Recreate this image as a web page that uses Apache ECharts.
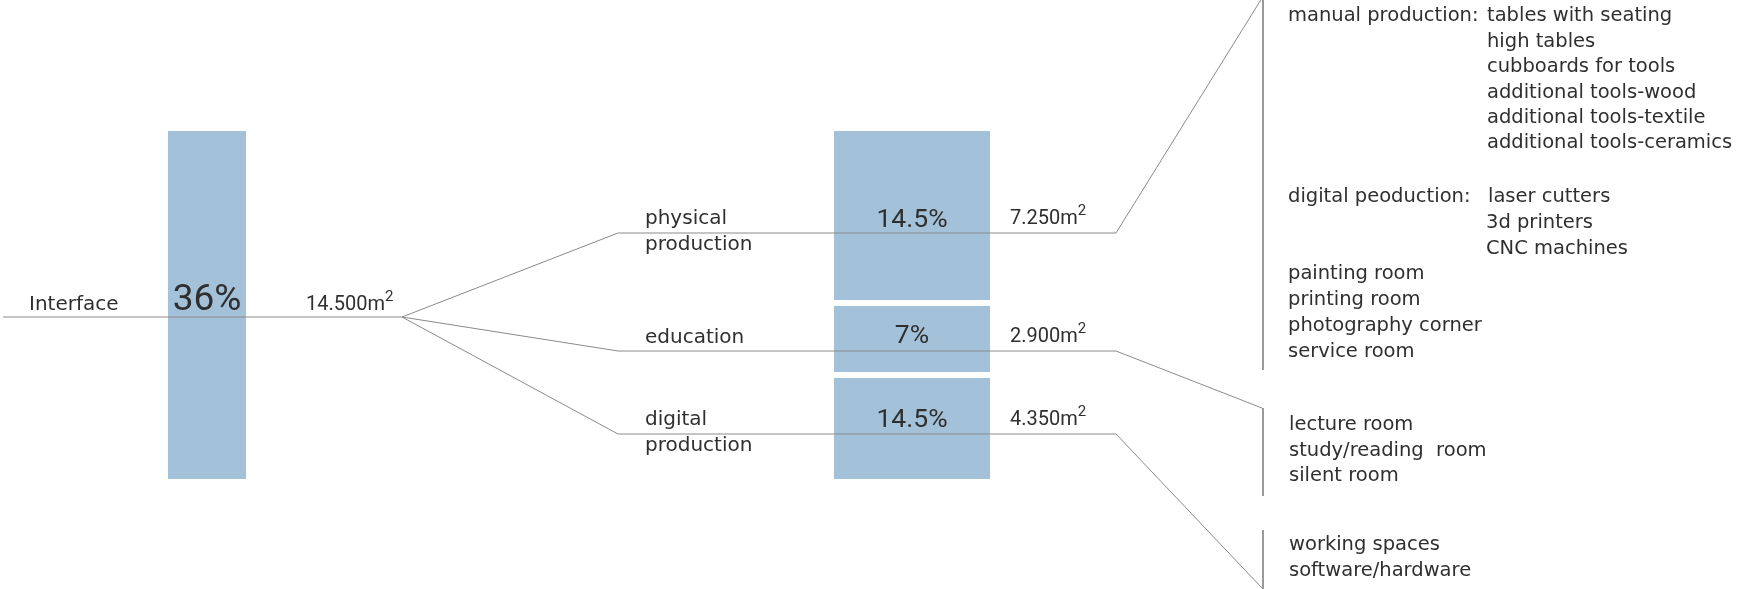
<!DOCTYPE html>
<html>
<head>
<meta charset="utf-8">
<script src="https://cdn.jsdelivr.net/npm/echarts@6/dist/echarts.min.js"></script>
<style>
  html, body { margin: 0; padding: 0; background: #fff; }
  #main { width: 1739px; height: 589px; }
</style>
</head>
<body>
<div id="main"></div>
<script>
// 数据
const interfaceName = 'Interface';
const interfaceShare = '36%';
const interfaceArea = '14.500';
const zoneNames = ['physical\nproduction', 'education', 'digital\nproduction'];
const zoneShares = ['14.5%', '7%', '14.5%'];
const zoneAreas = ['7.250', '2.900', '4.350'];
const manualLabel = 'manual production:';
const manualItems = ['tables with seating', 'high tables', 'cubboards for tools',
  'additional tools-wood', 'additional tools-textile', 'additional tools-ceramics'];
const digitalLabel = 'digital peoduction:';
const digitalItems = ['laser cutters', '3d printers', 'CNC machines'];
const physicalRooms = ['painting room', 'printing room', 'photography corner', 'service room'];
const educationRooms = ['lecture room', 'study/reading  room', 'silent room'];
const digitalRooms = ['working spaces', 'software/hardware'];

// 布局 (1 unit = 1px of the canvas, y downward)
const W = 1739, H = 589;
const WORD_FONT = '"DejaVu Sans", sans-serif';
const NUM_FONT = 'Roboto, "Noto Sans", sans-serif';
const TEXT = '#2f2f2f', LINE = '#8a8a8a', BRACKET = '#9a9a9a', BAR = '#a3c1d8';
const leftBar = [168, 131, 246, 479];
const rightBarX = [834, 990];
const rightSegs = [[131, 300], [306, 372], [378, 479]];
const trunk = { x0: 3, x1: 402, y: 317 };
const branchX = [618, 1116];
const branchY = [233, 351, 434];
const bracketX = 1263;
const brackets = [[-2, 370], [408, 496], [530, 590]];
const branchEnd = [-2, 408, 588];

// 文字
const labels = [];
function addLabel(text, x, y, size, font, align, sup) {
  labels.push({ text, x, y, size, font, align: align || 'left', sup: !!sup });
}
addLabel(interfaceName, 29, 312, 20, WORD_FONT);
addLabel(interfaceShare, 207, 313, 37, NUM_FONT, 'center');
addLabel(interfaceArea, 306, 312, 20, NUM_FONT, 'left', true);
const zoneBase = [226, 345, 427];
const shareBase = [229, 345, 429];
const areaBase = [226, 344, 427];
zoneNames.forEach((name, i) => {
  name.split('\n').forEach((line, j) => addLabel(line, 645, zoneBase[i] + j * 26, 20, WORD_FONT));
  addLabel(zoneShares[i], 912, shareBase[i], 26.5, NUM_FONT, 'center');
  addLabel(zoneAreas[i], 1010, areaBase[i], 20, NUM_FONT, 'left', true);
});
const LS = 19.5;
addLabel(manualLabel, 1288, 23, LS, WORD_FONT);
manualItems.forEach((t, i) => addLabel(t, 1487, 23 + i * 25.4, LS, WORD_FONT));
addLabel(digitalLabel, 1288, 204, LS, WORD_FONT);
digitalItems.forEach((t, i) => addLabel(t, i ? 1486 : 1488, 204 + i * 25.7, LS, WORD_FONT));
physicalRooms.forEach((t, i) => addLabel(t, 1288, 281 + i * 25.7, LS, WORD_FONT));
educationRooms.forEach((t, i) => addLabel(t, 1289, 432 + i * 25.5, LS, WORD_FONT));
digitalRooms.forEach((t, i) => addLabel(t, 1289, 552 + i * 26, LS, WORD_FONT));

// 系列
const bars = [leftBar].concat(rightSegs.map(s => [rightBarX[0], s[0], rightBarX[1], s[1]]));
const series = [];
series.push({
  type: 'custom',
  z: 1,
  data: bars,
  renderItem: (params, api) => {
    const a = api.coord([api.value(0), api.value(1)]);
    const b = api.coord([api.value(2), api.value(3)]);
    return {
      type: 'rect',
      shape: { x: a[0], y: a[1], width: b[0] - a[0], height: b[1] - a[1] },
      style: { fill: BAR }
    };
  }
});
const lineBase = { type: 'line', symbol: 'none', silent: true, z: 3 };
series.push(Object.assign({}, lineBase, {
  data: [[trunk.x0, trunk.y], [trunk.x1, trunk.y]],
  lineStyle: { color: LINE, width: 1 }
}));
branchY.forEach((y, i) => {
  series.push(Object.assign({}, lineBase, {
    data: [[trunk.x1, trunk.y], [branchX[0], y], [branchX[1], y], [bracketX - 1, branchEnd[i]]],
    lineStyle: { color: LINE, width: 1 }
  }));
});
brackets.forEach(b => {
  series.push(Object.assign({}, lineBase, {
    data: [[bracketX, b[0]], [bracketX, b[1]]],
    lineStyle: { color: BRACKET, width: 2 }
  }));
});
series.push({
  type: 'custom',
  z: 5,
  data: labels.map(d => [d.x, d.y]),
  renderItem: (params, api) => {
    const d = labels[params.dataIndex];
    const p = api.coord([d.x, d.y]);
    const style = {
      text: d.text,
      fill: TEXT,
      font: d.size + 'px ' + d.font,
      align: d.align,
      verticalAlign: 'middle'
    };
    if (d.sup) {
      // m² with a raised 2
      style.text = '{n|' + d.text + 'm}{s|2}';
      style.rich = {
        n: { fontSize: d.size, fontFamily: d.font, color: TEXT, lineHeight: 31 },
        s: { fontSize: 15, fontFamily: d.font, color: TEXT, lineHeight: 15, verticalAlign: 'top' }
      };
    }
    return { type: 'text', x: p[0], y: p[1] - d.size * 0.34, style };
  }
});

const myChart = echarts.init(document.getElementById('main'));
myChart.setOption({
  animation: false,
  grid: { left: 0, right: 0, top: 0, bottom: 0 },
  xAxis: { type: 'value', min: 0, max: W, show: false },
  yAxis: { type: 'value', min: 0, max: H, inverse: true, show: false },
  series
});
</script>
</body>
</html>
